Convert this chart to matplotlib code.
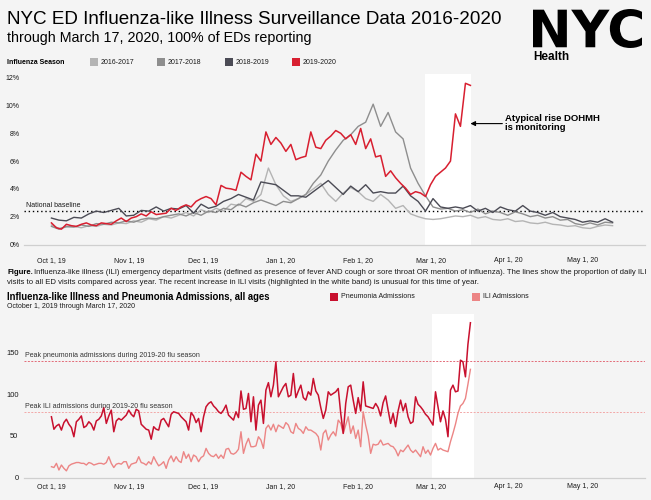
import matplotlib
matplotlib.use("Agg")
import matplotlib.pyplot as plt
import pandas as pd
from matplotlib.patches import Rectangle, PathPatch
from matplotlib.textpath import TextPath
from matplotlib.font_manager import FontProperties
from matplotlib.transforms import Affine2D

plt.rcParams["font.family"] = ["Liberation Sans", "DejaVu Sans"]

SEASON_START = pd.Timestamp("2019-10-01")

# --- data -------------------------------------------------------------------
season_labels = ["2016-2017", "2017-2018", "2018-2019", "2019-2020"]

# share of ED visits that are ILI (%), past seasons read every 3 days from Oct 1
ili_2016_17 = [
    1.4, 1.15, 1.25, 1.3, 1.2, 1.35, 1.3, 1.45, 1.4, 1.55,
    1.5, 1.7, 1.6, 1.85, 1.75, 2.0, 1.9, 2.1, 2.3, 2.05,
    2.5, 2.3, 2.6, 2.4, 2.9, 2.8, 3.3, 3.1, 3.6, 5.5,
    4.3, 3.5, 3.1, 3.3, 3.6, 4.0, 4.4, 3.6, 3.1, 3.7,
    4.1, 3.8, 3.3, 3.1, 3.6, 3.2, 2.6, 2.8, 2.2, 2.0,
    1.85, 1.8, 1.85, 1.95, 2.05, 2.0, 2.1, 1.9, 2.0, 1.8,
    1.75, 1.85, 1.65, 1.7, 1.55, 1.5, 1.6, 1.45, 1.4, 1.3,
    1.35, 1.2, 1.15, 1.3, 1.4, 1.35,
]
ili_2017_18 = [
    1.3, 1.1, 1.3, 1.25, 1.4, 1.3, 1.5, 1.45, 1.6, 1.55,
    1.7, 1.6, 1.8, 1.9, 1.85, 2.0, 2.1, 2.2, 2.05, 2.3,
    2.1, 2.4, 2.3, 2.6, 2.5, 2.9, 2.7, 3.0, 3.2, 3.0,
    2.8, 3.1, 3.0, 3.3, 3.6, 4.4, 5.0, 6.0, 6.8, 7.5,
    7.9, 8.5, 8.8, 10.1, 8.5, 9.5, 8.1, 7.6, 5.5, 4.4,
    3.5, 2.7, 2.55, 2.6, 2.4, 2.5, 2.3, 2.55, 2.2, 2.4,
    2.3, 2.1, 2.35, 2.2, 2.0, 2.1, 1.9, 2.0, 1.75, 1.8,
    1.5, 1.4, 1.55, 1.4, 1.6, 1.55,
]
ili_2018_19 = [
    1.9, 1.75, 1.7, 1.95, 1.9, 2.2, 2.4, 2.3, 2.45, 2.6,
    2.05, 2.1, 2.45, 2.4, 2.7, 2.4, 2.6, 2.55, 2.8, 2.25,
    2.9, 2.6, 2.75, 3.1, 3.3, 3.6, 3.4, 3.2, 4.5, 4.4,
    4.3, 3.9, 3.5, 3.5, 3.4, 3.8, 4.2, 4.6, 4.1, 3.6,
    4.2, 3.8, 4.3, 3.7, 3.8, 3.7, 3.7, 4.2, 3.5, 3.1,
    2.4, 3.3, 2.7, 2.6, 2.7, 2.6, 2.8, 2.4, 2.6, 2.3,
    2.7, 2.5, 2.4, 2.8, 2.4, 2.3, 2.1, 2.3, 2.0, 1.9,
    1.8, 1.6, 1.7, 1.6, 1.85, 1.6,
]
# current season, read every 2 days from Oct 1 through Mar 17
ili_2019_20 = [
    1.55, 1.2, 1.1, 1.45, 1.35, 1.3, 1.45, 1.55, 1.4, 1.35,
    1.55, 1.5, 1.45, 1.7, 1.9, 1.65, 1.9, 2.0, 2.2, 2.05,
    2.35, 2.15, 2.2, 2.25, 2.6, 2.45, 2.7, 2.85, 2.7, 3.1,
    3.3, 3.45, 3.3, 2.85, 4.25, 4.05, 4.0, 3.9, 5.2, 4.9,
    4.65, 6.5, 6.0, 8.1, 7.2, 7.7, 7.3, 6.7, 7.2, 6.1,
    6.25, 6.35, 8.1, 7.0, 6.9, 7.5, 7.8, 8.2, 8.0, 7.6,
    7.9, 7.2, 8.35, 6.9, 7.6, 6.3, 6.4, 4.9, 5.3, 4.8,
    4.4, 4.05, 3.6, 3.8, 3.7, 3.45, 4.3, 4.9, 5.2, 5.5,
    6.0, 9.4, 8.5, 11.6, 11.45,
]
national_baseline = 2.4

# daily admissions, Oct 1 2019 - Mar 17 2020
pneumonia_admissions = [
    73, 58, 62, 64, 57, 66, 70, 64, 60, 49,
    67, 70, 74, 60, 62, 67, 64, 57, 68, 70,
    74, 84, 65, 74, 81, 55, 68, 71, 69, 72,
    75, 81, 76, 73, 82, 80, 64, 61, 58, 57,
    46, 61, 58, 57, 69, 71, 66, 61, 76, 79,
    78, 77, 73, 70, 67, 57, 78, 74, 66, 71,
    55, 73, 85, 89, 91, 86, 83, 79, 77, 81,
    87, 75, 72, 69, 79, 72, 104, 82, 83, 101,
    67, 97, 57, 87, 93, 65, 105, 114, 97, 111,
    139, 97, 103, 109, 113, 97, 99, 125, 96, 104,
    111, 96, 93, 103, 99, 119, 104, 99, 84, 71,
    81, 103, 99, 101, 103, 107, 77, 53, 89, 109,
    111, 93, 77, 96, 80, 115, 86, 85, 84, 83,
    89, 84, 74, 90, 98, 81, 65, 77, 61, 80,
    93, 80, 89, 73, 65, 67, 97, 88, 85, 81,
    76, 73, 68, 63, 103, 85, 67, 80, 70, 49,
    105, 111, 103, 104, 141, 139, 121, 160, 186,
]
ili_admissions = [
    13, 12, 17, 9, 15, 11, 8, 14, 16, 17,
    18, 18, 17, 17, 15, 18, 17, 15, 16, 17,
    17, 16, 18, 25, 17, 12, 16, 17, 16, 19,
    19, 11, 16, 17, 18, 25, 18, 17, 15, 19,
    16, 25, 19, 14, 16, 19, 11, 21, 26, 19,
    25, 20, 18, 31, 23, 28, 19, 27, 25, 19,
    24, 26, 35, 29, 26, 25, 28, 23, 27, 23,
    34, 35, 29, 28, 30, 34, 55, 29, 40, 47,
    37, 37, 38, 49, 45, 35, 59, 63, 57, 64,
    55, 63, 61, 59, 66, 63, 55, 53, 65, 59,
    57, 53, 61, 57, 57, 55, 53, 49, 33, 53,
    57, 45, 51, 55, 50, 69, 65, 53, 63, 73,
    53, 62, 47, 57, 37, 79, 63, 50, 29, 40,
    39, 40, 45, 39, 40, 41, 38, 37, 33, 26,
    33, 31, 35, 39, 33, 30, 33, 29, 25, 37,
    29, 33, 27, 35, 41, 33, 35, 33, 32, 31,
    43, 53, 64, 77, 86, 89, 95, 112, 130,
]
peak_pneumonia = 140
peak_ili = 79

tick_dates = ["2019-10-01", "2019-11-01", "2019-12-01", "2020-01-01",
              "2020-02-01", "2020-03-01", "2020-04-01", "2020-05-01"]
tick_labels = ["Oct 1, 19", "Nov 1, 19", "Dec 1, 19", "Jan 1, 20",
               "Feb 1, 20", "Mar 1, 20", "Apr 1, 20", "May 1, 20"]

# --- style ------------------------------------------------------------------
BG = "#f4f4f4"
season_colors = ["#b4b4b4", "#8e8e8e", "#4b4b55", "#d81f30"]
PNEU_COLOR = "#c8102e"
ILI_COLOR = "#ec8585"
TEXT = "#1a1a1a"
CAPTION_SIZE = 5.57

W, H = 651, 500


def fx(px):
    return px / W


def fy(py):
    return 1 - py / H


def day(offset):
    return SEASON_START + pd.Timedelta(days=offset)


def style_axis(axis, yticks, ylabels, pad_x, pad_y, ysize):
    axis.set_facecolor(BG)
    for side in ("top", "right", "left"):
        axis.spines[side].set_visible(False)
    axis.spines["bottom"].set_color("#cfcfcf")
    axis.spines["bottom"].set_linewidth(0.9)
    axis.set_xlim(day(-11), day(238))
    axis.set_xticks(pd.to_datetime(tick_dates))
    axis.set_xticklabels(tick_labels)
    axis.set_yticks(yticks)
    axis.set_yticklabels(ylabels)
    axis.tick_params(axis="x", length=0, labelsize=5, colors=TEXT, pad=pad_x)
    axis.tick_params(axis="y", length=0, labelsize=ysize, colors=TEXT, pad=pad_y)


def swatch(x, y, color, label, gap=3):
    fig.add_artist(Rectangle((fx(x), fy(y + 4)), 8 / W, 8 / H,
                             transform=fig.transFigure, color=color, lw=0))
    fig.text(fx(x + 8 + gap), fy(y), label, fontsize=5, va="center", color=TEXT)


fig = plt.figure(figsize=(W / 100, H / 100), dpi=100, facecolor=BG)

# --- header -----------------------------------------------------------------
fig.text(fx(7), fy(19), "NYC ED Influenza-like Illness Surveillance Data 2016-2020",
         fontsize=13.6, va="center", color="black")
fig.text(fx(7), fy(38), "through March 17, 2020, 100% of EDs reporting",
         fontsize=10.3, va="center", color="black")

logo = TextPath((0, 0), "NYC", prop=FontProperties(family="DejaVu Sans", weight="bold"))
ext = logo.get_extents()
logo_box = (533, 9, 642, 48)
logo_tf = (Affine2D().translate(-ext.x0, -ext.y0)
           .scale((logo_box[2] - logo_box[0]) / ext.width / W,
                  (logo_box[3] - logo_box[1]) / ext.height / H)
           .translate(fx(logo_box[0]), fy(logo_box[3])))
fig.add_artist(PathPatch(logo_tf.transform_path(logo), transform=fig.transFigure,
                         color="black", lw=0))
fig.text(fx(533), fy(57.5), "Health", fontsize=8.5, weight="bold", va="center")

fig.text(fx(7), fy(62), "Influenza Season", fontsize=5, weight="bold", va="center")
for x0, color, label in zip([90, 157, 225, 292], season_colors, season_labels):
    swatch(x0, 62, color, label)

# --- top chart: ILI share of ED visits ---------------------------------------
ax1 = fig.add_axes([fx(24), fy(245), (645 - 24) / W, (245 - 74) / H])
style_axis(ax1, range(0, 13, 2), [f"{v}%" for v in range(0, 13, 2)], 9, 3, 5)
ax1.set_ylim(-0.04, 12.27)
ax1.axvspan(day(149.6), day(168.4), color="white", lw=0, zorder=0)

past = [ili_2016_17, ili_2017_18, ili_2018_19]
for values, color in zip(past, season_colors[:3]):
    dates = pd.date_range(SEASON_START, periods=len(values), freq="3D")
    ax1.plot(dates, values, color=color, lw=1.0, zorder=2)
dates_now = pd.date_range(SEASON_START, periods=len(ili_2019_20), freq="2D")
ax1.plot(dates_now, ili_2019_20, color=season_colors[3], lw=1.1, zorder=3)

ax1.axhline(national_baseline, color="black", lw=1.0, ls=(0, (1, 2)), zorder=1)
ax1.text(day(-10), national_baseline + 0.38, "National baseline", fontsize=5,
         va="center", color=TEXT)

ax1.annotate("", xy=(day(168), 8.7), xytext=(day(180.8), 8.7),
             arrowprops=dict(arrowstyle="-|>", color="black", lw=0.8,
                             mutation_scale=7, shrinkA=0, shrinkB=0))
ax1.text(day(182), 8.72, "Atypical rise DOHMH\nis monitoring", fontsize=6.8,
         weight="bold", va="center", linespacing=1.05, color="black")

# --- caption ------------------------------------------------------------------
renderer = fig.canvas.get_renderer()
fig_word = fig.text(fx(7), fy(273), "Figure.", fontsize=CAPTION_SIZE, weight="bold",
                    va="center")
fig_w = fig_word.get_window_extent(renderer).width
fig.text(fx(7) + (fig_w + 1.5) / W, fy(273),
         "Influenza-like illness (ILI) emergency department visits (defined as presence of "
         "fever AND cough or sore throat OR mention of influenza). The lines show the "
         "proportion of daily ILI", fontsize=CAPTION_SIZE, va="center", color=TEXT)
fig.text(fx(7), fy(283),
         "visits to all ED visits compared across year. The recent increase in ILI visits "
         "(highlighted in the white band) is unusual for this time of year.",
         fontsize=CAPTION_SIZE, va="center", color=TEXT)

# --- bottom chart: admissions ---------------------------------------------------
fig.text(fx(7), fy(297), "Influenza-like Illness and Pneumonia Admissions, all ages",
         fontsize=6.85, weight="bold", va="center", color="black")
fig.text(fx(7), fy(306), "October 1, 2019 through March 17, 2020", fontsize=5,
         va="center", color=TEXT)
swatch(330, 297, PNEU_COLOR, "Pneumonia Admissions")
swatch(472, 297, ILI_COLOR, "ILI Admissions")

ax2 = fig.add_axes([fx(24), fy(477.5), (645 - 24) / W, (477.5 - 314) / H])
style_axis(ax2, [0, 50, 100, 150], ["0", "50", "100", "150"], 4, 4, 5.4)
ax2.set_ylim(0, 196.5)
ax2.axvspan(day(152.6), day(169.6), color="white", lw=0, zorder=0)

daily = pd.date_range(SEASON_START, periods=len(pneumonia_admissions), freq="D")
ax2.plot(daily, ili_admissions, color=ILI_COLOR, lw=1.0, zorder=2)
ax2.plot(daily, pneumonia_admissions, color=PNEU_COLOR, lw=1.1, zorder=3)

ax2.axhline(peak_pneumonia, color="#e36b78", lw=0.7, ls=(0, (2, 1.5)), zorder=1)
ax2.axhline(peak_ili, color="#f2a7a7", lw=0.7, ls=(0, (2, 1.5)), zorder=1)
ax2.text(day(-10.5), peak_pneumonia + 6.5,
         "Peak pneumonia admissions during 2019-20 flu season",
         fontsize=5, va="center", color="#333333")
ax2.text(day(-10.5), peak_ili + 6.5, "Peak ILI admissions during 2019-20 flu season",
         fontsize=5, va="center", color="#333333")

fig.savefig("out.png", dpi=100, facecolor=BG)
